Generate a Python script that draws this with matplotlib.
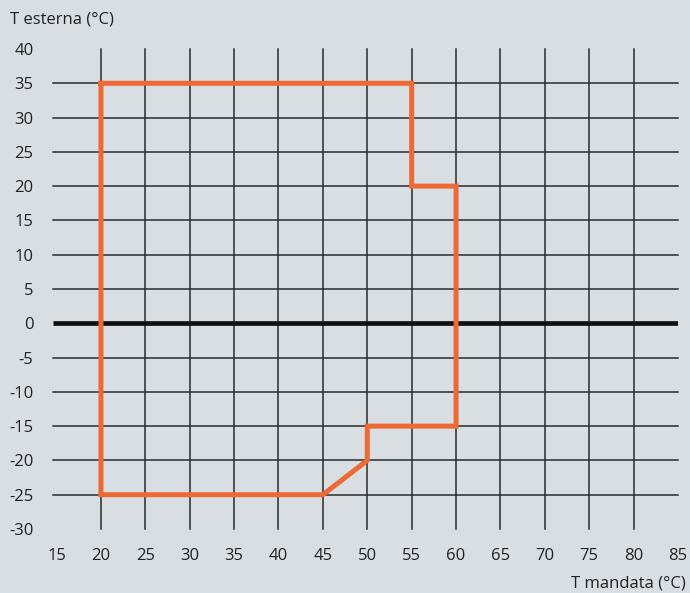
import matplotlib
matplotlib.use("Agg")
from matplotlib import pyplot as plt

# operating envelope (T mandata, T esterna)
t_mandata = [20, 55, 55, 60, 60, 50, 50, 45, 20, 20]
t_esterna = [35, 35, 20, 20, -15, -15, -20, -25, -25, 35]

x_ticks = [15, 20, 25, 30, 35, 40, 45, 50, 55, 60, 65, 70, 75, 80, 85]
y_ticks = [40, 35, 30, 25, 20, 15, 10, 5, 0, -5, -10, -15, -20, -25, -30]

bg = "#d9dee3"
plt.rcParams['font.family'] = ['Open Sans', 'DejaVu Sans']

fig = plt.figure(figsize=(6.9, 5.93), dpi=100, facecolor=bg)
ax = fig.add_axes([53 / 690, 1 - 529 / 593, 625 / 690, 480 / 593])
ax.set_facecolor(bg)
ax.set_xlim(14.6, 85)
ax.set_ylim(-30, 40)

# grid: vertical lines 20..80, horizontal -25..35
for x in x_ticks[1:-1]:
    ax.plot([x, x], [-30, 40], color="#2a2a2a", lw=1.1, zorder=1, clip_on=False)
for y in y_ticks[1:-1]:
    if y == 0:
        continue
    ax.plot([14.6, 85], [y, y], color="#2a2a2a", lw=1.1, zorder=1, clip_on=False)
ax.plot([14.6, 85], [0, 0], color="#111111", lw=3.4, zorder=2, solid_capstyle="butt")

ax.plot(t_mandata, t_esterna, color="#ee6a35", lw=3.6, zorder=3,
        solid_joinstyle="miter", solid_capstyle="projecting")

for s in ax.spines.values():
    s.set_visible(False)
ax.set_xticks(x_ticks)
ax.set_yticks(y_ticks)
ax.set_xticklabels([str(v) for v in x_ticks])
ax.set_yticklabels([str(v) for v in y_ticks])
ax.tick_params(length=0, labelsize=12, colors="#222222")
ax.tick_params(axis="y", pad=14)
ax.tick_params(axis="x", pad=14)

fig.text(10 / 690, 1 - 20 / 593, "T esterna (°C)", fontsize=12, color="#222222",
         ha="left", va="center")
fig.text(686 / 690, 1 - 583 / 593, "T mandata (°C)", fontsize=12, color="#222222",
         ha="right", va="center")

fig.savefig("out.png", dpi=100, facecolor=bg)
